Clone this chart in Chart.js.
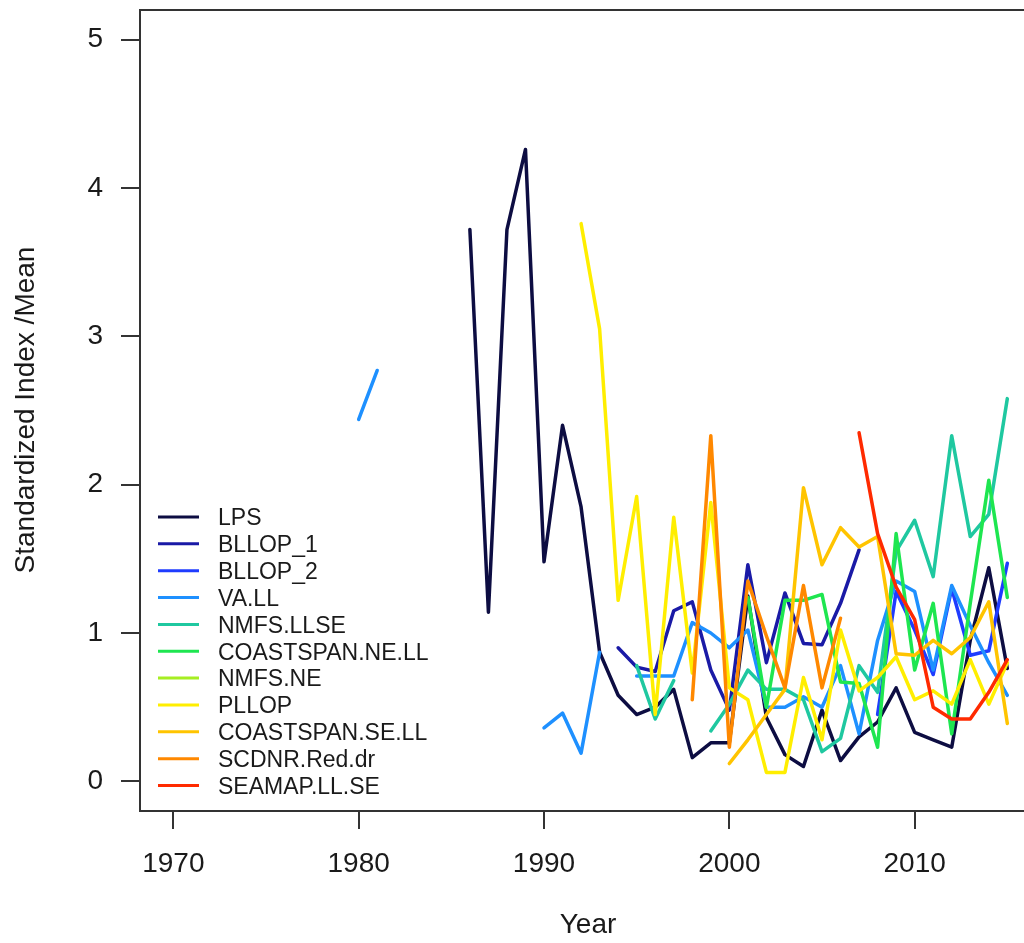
<!DOCTYPE html>
<html>
<head>
<meta charset="utf-8">
<script src="https://cdn.jsdelivr.net/npm/chart.js@4.4.1/dist/chart.umd.min.js"></script>
<style>
  html, body { margin: 0; padding: 0; background: #fff; overflow: hidden; }
  #wrap { width: 1024px; height: 943px; }
</style>
</head>
<body>
<div id="wrap"><canvas id="chart" width="1024" height="943"></canvas></div>
<script>
// years 1980..2015, one value per year (null = no data)
const years = [1980, 1981, 1982, 1983, 1984, 1985, 1986, 1987, 1988, 1989,
               1990, 1991, 1992, 1993, 1994, 1995, 1996, 1997, 1998, 1999,
               2000, 2001, 2002, 2003, 2004, 2005, 2006, 2007, 2008, 2009,
               2010, 2011, 2012, 2013, 2014, 2015];

const xTicks = [1970, 1980, 1990, 2000, 2010];
const yTicks = [0, 1, 2, 3, 4, 5];

const seriesNames = ['LPS', 'BLLOP_1', 'BLLOP_2', 'VA.LL', 'NMFS.LLSE', 'COASTSPAN.NE.LL',
                     'NMFS.NE', 'PLLOP', 'COASTSPAN.SE.LL', 'SCDNR.Red.dr', 'SEAMAP.LL.SE'];
const seriesColors = ['#0d0d42', '#1a1aa6', '#1f3cff', '#1e90ff', '#1fc8a0', '#1ee650',
                      '#a6ee22', '#ffee00', '#ffc400', '#ff8800', '#ff2a00'];

const _ = null;
const lps      = [_, _, _, _, _, _, 3.72, 1.14, 3.72, 4.26,
                  1.48, 2.40, 1.85, 0.87, 0.58, 0.45, 0.50, 0.62, 0.16, 0.26,
                  0.26, 1.25, 0.43, 0.18, 0.10, 0.48, 0.14, 0.30, 0.40, 0.63,
                  0.33, 0.28, 0.23, 0.95, 1.44, 0.76];
const bllop1   = [_, _, _, _, _, _, _, _, _, _,
                  _, _, _, _, 0.90, 0.77, 0.74, 1.15, 1.21, 0.75,
                  0.48, 1.46, 0.80, 1.27, 0.93, 0.92, 1.20, 1.56, _, _,
                  _, _, _, _, _, _];
const bllop2   = [_, _, _, _, _, _, _, _, _, _,
                  _, _, _, _, _, _, _, _, _, _,
                  _, _, _, _, _, _, _, _, 0.45, 1.28,
                  1.02, 0.72, 1.30, 0.85, 0.88, 1.47];
const vaLL     = [2.44, 2.77, _, _, _, _, _, _, _, _,
                  0.36, 0.46, 0.19, 0.87, _, 0.71, 0.71, 0.71, 1.07, 1.00,
                  0.90, 1.02, 0.50, 0.50, 0.57, 0.50, 0.78, 0.32, 0.95, 1.35,
                  1.28, 0.75, 1.32, 1.05, 0.80, 0.58];
const nmfsLLSE = [_, _, _, _, _, _, _, _, _, _,
                  _, _, _, _, _, 0.78, 0.42, 0.68, _, 0.34,
                  0.52, 0.75, 0.62, 0.62, 0.55, 0.20, 0.29, 0.78, 0.60, 1.55,
                  1.76, 1.38, 2.33, 1.65, 1.80, 2.58];
const csNE     = [_, _, _, _, _, _, _, _, _, _,
                  _, _, _, _, _, _, _, _, _, _,
                  _, 1.24, 0.50, 1.22, 1.22, 1.26, 0.67, 0.66, 0.23, 1.67,
                  0.75, 1.20, 0.32, 1.20, 2.03, 1.24];
const nmfsNE   = [_, _, _, _, _, _, _, _, _, _,
                  _, _, _, _, _, _, _, _, _, _,
                  _, _, _, _, _, _, _, _, _, _,
                  _, _, _, _, _, _];
const pllop    = [_, _, _, _, _, _, _, _, _, _,
                  _, _, 3.76, 3.05, 1.22, 1.92, 0.45, 1.78, 0.73, 1.88,
                  0.63, 0.55, 0.06, 0.06, 0.70, 0.28, 1.02, 0.61, 0.70, 0.84,
                  0.55, 0.61, 0.52, 0.82, 0.52, 0.80];
const csSE     = [_, _, _, _, _, _, _, _, _, _,
                  _, _, _, _, _, _, _, _, _, _,
                  0.12, 0.28, 0.45, 0.62, 1.98, 1.46, 1.71, 1.58, 1.65, 0.86,
                  0.85, 0.95, 0.86, 0.97, 1.21, 0.39];
const scdnr    = [_, _, _, _, _, _, _, _, _, _,
                  _, _, _, _, _, _, _, _, 0.55, 2.33,
                  0.23, 1.35, 0.98, 0.63, 1.32, 0.63, 1.10, _, _, _,
                  _, _, _, _, _, _];
const seamap   = [_, _, _, _, _, _, _, _, _, _,
                  _, _, _, _, _, _, _, _, _, _,
                  _, _, _, _, _, _, _, 2.35, 1.67, 1.31,
                  1.09, 0.50, 0.42, 0.42, 0.60, 0.82];

const seriesValues = [lps, bllop1, bllop2, vaLL, nmfsLLSE, csNE, nmfsNE, pllop, csSE, scdnr, seamap];

const FONT = '"Liberation Sans", Arial, sans-serif';
const INK = '#1a1a1a';
const FRAME = '#333';

// top edge of the box + axis titles + legend (R style, no legend frame)
const extras = {
  id: 'extras',
  afterDraw(chart) {
    const { ctx, chartArea: a } = chart;
    ctx.save();
    ctx.strokeStyle = FRAME;
    ctx.lineWidth = 2;
    ctx.beginPath();
    ctx.moveTo(a.left, a.top);
    ctx.lineTo(a.right, a.top);
    ctx.stroke();

    ctx.fillStyle = INK;
    ctx.font = '28px ' + FONT;
    ctx.textAlign = 'center';
    ctx.textBaseline = 'middle';
    ctx.fillText('Year', 588, 925);
    ctx.save();
    ctx.translate(26, 410);
    ctx.rotate(-Math.PI / 2);
    ctx.fillText('Standardized Index /Mean', 0, 0);
    ctx.restore();

    ctx.font = '23px ' + FONT;
    ctx.textAlign = 'left';
    chart.data.datasets.forEach((ds, i) => {
      const y = 517 + i * 26.85;
      ctx.strokeStyle = ds.borderColor;
      ctx.lineWidth = 3;
      ctx.beginPath();
      ctx.moveTo(158, y);
      ctx.lineTo(199, y);
      ctx.stroke();
      ctx.fillStyle = INK;
      ctx.fillText(ds.label, 218, y + 2);
    });
    ctx.restore();
  }
};

new Chart(document.getElementById('chart'), {
  type: 'line',
  data: {
    datasets: seriesNames.map((name, i) => ({
      label: name,
      data: years.map((yr, k) => ({ x: yr, y: seriesValues[i][k] })),
      borderColor: seriesColors[i],
      backgroundColor: seriesColors[i],
      borderWidth: 3.5,
      borderJoinStyle: 'round',
      borderCapStyle: 'round',
      pointRadius: 0,
      tension: 0,
      spanGaps: false,
      order: -i,
    })),
  },
  options: {
    responsive: false,
    animation: false,
    devicePixelRatio: 1,
    layout: { padding: { left: 0, right: 0, top: 10, bottom: 0 } },
    plugins: { legend: { display: false }, tooltip: { enabled: false } },
    scales: {
      x: {
        type: 'linear', min: 1968.2, max: 2015.9,
        afterBuildTicks: s => { s.ticks = xTicks.map(v => ({ value: v })); },
        afterFit: s => { s.height = 132; s.paddingLeft = 0; s.paddingRight = 0; },
        grid: { drawOnChartArea: false, drawTicks: true, tickLength: 18, color: FRAME, lineWidth: 2 },
        border: { display: true, color: FRAME, width: 2 },
        ticks: { font: { family: FONT, size: 28 }, color: INK, padding: 18, maxRotation: 0,
                 callback: v => String(v) },
      },
      y: {
        type: 'linear', min: -0.2, max: 5.2,
        afterBuildTicks: s => { s.ticks = yTicks.map(v => ({ value: v })); },
        afterFit: s => { s.width = 140; s.paddingTop = 0; s.paddingBottom = 0; },
        grid: { drawOnChartArea: false, drawTicks: true, tickLength: 19, color: FRAME, lineWidth: 2 },
        border: { display: true, color: FRAME, width: 2 },
        ticks: { font: { family: FONT, size: 28 }, color: INK, padding: 18 },
      },
    },
  },
  plugins: [extras],
});
</script>
</body>
</html>
